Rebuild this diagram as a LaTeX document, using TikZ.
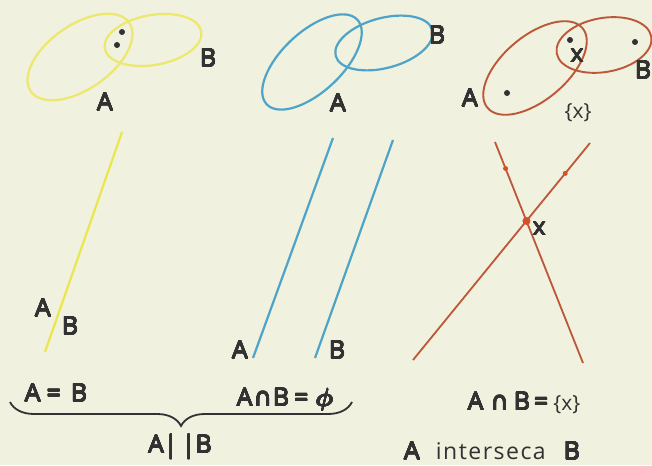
\documentclass[tikz,border=0pt]{standalone}
\usepackage{bm}
\usepackage{contour}
\usepackage{fontspec}
\setmainfont{Open Sans}
\newfontfamily\symf{DejaVu Sans}
\contourlength{0.38pt}
\contournumber{16}
\usetikzlibrary{decorations.pathreplacing,calc}
\definecolor{bgc}{RGB}{240,241,222}
\definecolor{yel}{RGB}{236,230,78}
\definecolor{yell}{RGB}{236,232,110}
\definecolor{blu}{RGB}{78,164,200}
\definecolor{red}{RGB}{190,86,56}
\definecolor{dotred}{RGB}{215,80,45}
\definecolor{ink}{RGB}{50,50,50}
\newcommand\bt[1]{\contour{ink}{#1}}
\tikzset{
  lbl/.style={text=ink, inner sep=0pt, font=\fontsize{25}{30}\selectfont},
  slbl/.style={text=ink, inner sep=0pt, font=\fontsize{21}{25}\selectfont},
  ell/.style={line width=2.2pt},
  ln/.style={line width=2.2pt},
  dotk/.style={circle, fill=ink, inner sep=0pt, minimum size=6pt},
}
\begin{document}
\begin{tikzpicture}[x=1pt,y=1pt]
\fill[bgc] (0,0) rectangle (652,465);
\useasboundingbox (0,0) rectangle (652,465);

% ---------- yellow ----------
\draw[ell, yell, rotate around={35:(80,408)}] (80,408) ellipse [x radius=60, y radius=32];
\draw[ell, yell, rotate around={10:(153,425)}] (153,425) ellipse [x radius=49, y radius=25];
\node[dotk] (yd1) at (122,433) {};
\node[dotk] (yd2) at (117,420) {};
\node[lbl] (yA) at (105,363) {\bt{A}};
\node[lbl] (yB) at (208,407) {\bt{B}};
\coordinate (yt) at (122,333);
\coordinate (yb) at (45,113);
\draw[ln, yel] (yt) -- (yb);
\node[lbl] (ylA) at (43,157) {\bt{A}};
\node[lbl] (ylB) at (70,139) {\bt{B}};

% ---------- blue ----------
\draw[ell, blu, rotate around={43:(312,403)}] (312,403) ellipse [x radius=62, y radius=30];
\draw[ell, blu, rotate around={15:(384,422)}] (384,422) ellipse [x radius=50, y radius=25];
\node[lbl] (bA) at (338,362) {\bt{A}};
\node[lbl] (bB) at (437,430) {\bt{B}};
\coordinate (b1t) at (333,327);
\coordinate (b1b) at (253,107);
\coordinate (b2t) at (393,325);
\coordinate (b2b) at (315,107);
\draw[ln, blu] (b1t) -- (b1b);
\draw[ln, blu] (b2t) -- (b2b);
\node[lbl] (blA) at (240,115) {\bt{A}};
\node[lbl] (blB) at (337,115) {\bt{B}};

% ---------- red ----------
\draw[ell, red, line width=1.9pt, rotate around={40:(535,397)}] (535,397) ellipse [x radius=62, y radius=32];
\draw[ell, red, line width=1.9pt, rotate around={10:(604,420)}] (604,420) ellipse [x radius=48, y radius=27];
\node[dotk] (rd1) at (570,425) {};
\node[dotk] (rd2) at (635,423) {};
\node[dotk] (rd3) at (507,372) {};
\node[lbl] (rx) at (577,409) {\bt{x}};
\node[lbl] (rA) at (470,367) {\bt{A}};
\node[slbl] (rset) at (578,352) {\{x\}};
\node[lbl] (rB) at (643,395) {\bt{B}};
\coordinate (r1t) at (495,323);
\coordinate (r1b) at (583,102);
\coordinate (r2t) at (590,322);
\coordinate (r2b) at (413,105);
\draw[ln, red, line width=1.8pt] (r1t) -- (r1b);
\draw[ln, red, line width=1.8pt] (r2t) -- (r2b);
\coordinate (rX) at (intersection of r1t--r1b and r2t--r2b);
\node[circle, fill=dotred, inner sep=0pt, minimum size=8pt] (rXd) at (rX) {};
\node[circle, fill=dotred, inner sep=0pt, minimum size=5pt] (rp1) at ($(r1t)!0.12!(r1b)$) {};
\node[circle, fill=dotred, inner sep=0pt, minimum size=5pt] (rp2) at ($(r2t)!0.14!(r2b)$) {};
\node[lbl, anchor=west] (rxl) at ([xshift=6pt,yshift=-8pt]rX) {\bt{x}};

% ---------- bottom texts ----------
\node[lbl] (eq1) at (56,72) {\bt{A\kern6pt=\kern10pt B}};
\node[lbl] (eq2) at (285,65) {\bt{A\kern1pt{\symf ∩}\kern1pt B\kern5pt=\kern7pt$\bm{\phi}$}};
\node[lbl] (eq3) at (524,62) {\bt{A\kern7pt{\symf ∩}\kern5pt B\kern4pt=\kern5pt}{\fontsize{21}{25}\selectfont\{x\}}};
\coordinate (brL) at (10,63);
\coordinate (brR) at (352,63);
\draw[ink, line width=1.8pt, decorate, decoration={brace, mirror, amplitude=24pt}] (brL) -- (brR);
\node[lbl] (par) at (180,18) {\bt{A|\kern4pt|B}};
\node[lbl] (inter) at (492,14) {\bt{A}\hspace{16pt}{\fontsize{23}{28}\selectfont i\kern1.5pt n\kern1.5pt t\kern1.5pt e\kern1.5pt r\kern1.5pt s\kern1.5pt e\kern1.5pt c\kern1.5pt a}\hspace{18pt}\bt{B}};
\end{tikzpicture}
\end{document}
